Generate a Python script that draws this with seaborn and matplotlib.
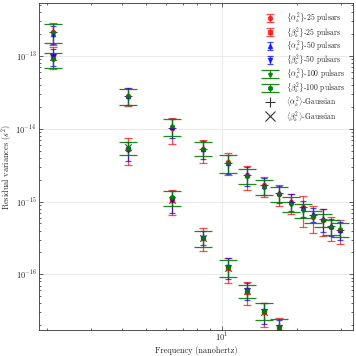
import matplotlib
matplotlib.use('Agg')
import matplotlib.pyplot as plt
import seaborn as sns
import pandas as pd

# frequencies of the residual bins (nanohertz)
freq = [2.11, 4.23, 6.34, 8.45, 10.56, 12.68, 14.79, 16.90, 19.01, 21.13, 23.24, 25.35, 27.47, 29.58]

# Gaussian expectation values
gauss_alpha = [2.16e-13, 2.85e-14, 1.03e-14, 5.26e-15, 3.41e-15, 2.31e-15, 1.68e-15, 1.29e-15,
               9.9e-16, 8.3e-16, 6.6e-16, 5.7e-16, 4.6e-16, 4.1e-16]
gauss_beta = [9.8e-14, 5.65e-15, 1.06e-15, 3.2e-16, 1.24e-16, 5.9e-17, 3.06e-17, 1.86e-17,
              1.0e-17, 6.0e-18, 3.8e-18, 2.4e-18, 1.6e-18, 1.1e-18]

# 25 pulsars
a25 = [2.12e-13, 2.82e-14, 1.01e-14, 5.2e-15, 3.45e-15, 2.28e-15, 1.68e-15, 1.27e-15,
       9.8e-16, 8.3e-16, 6.2e-16, 5.6e-16, 4.5e-16, 4.1e-16]
a25_err = [7.2e-14, 7.8e-15, 3.9e-15, 1.8e-15, 1.15e-15, 8.2e-16, 5.2e-16, 4.0e-16,
           3.0e-16, 3.8e-16, 2.45e-16, 2.2e-16, 1.6e-16, 1.5e-16]
b25 = [1.0e-13, 5.35e-15, 1.05e-15, 3.2e-16, 1.22e-16, 5.8e-17, 3.0e-17, 1.85e-17,
       1.0e-17, 6.0e-18, 3.8e-18, 2.4e-18, 1.6e-18, 1.1e-18]
b25_err = [3.4e-14, 2.15e-15, 4.0e-16, 1.1e-16, 4.5e-17, 2.0e-17, 1.1e-17, 7.0e-18,
           4.0e-18, 2.5e-18, 1.6e-18, 1.0e-18, 7.0e-19, 5.0e-19]

# 50 pulsars
a50 = [2.02e-13, 2.85e-14, 1.06e-14, 5.3e-15, 3.4e-15, 2.3e-15, 1.66e-15, 1.3e-15,
       1.0e-15, 8.2e-16, 6.7e-16, 5.8e-16, 4.6e-16, 4.1e-16]
a50_err = [5.5e-14, 7.5e-15, 3.05e-15, 1.5e-15, 1.0e-15, 6.5e-16, 4.2e-16, 3.3e-16,
           2.5e-16, 2.0e-16, 1.5e-16, 2.0e-16, 1.2e-16, 1.1e-16]
b50 = [9.9e-14, 5.1e-15, 1.04e-15, 3.2e-16, 1.26e-16, 6.0e-17, 3.1e-17, 1.88e-17,
       1.0e-17, 6.0e-18, 3.8e-18, 2.4e-18, 1.6e-18, 1.1e-18]
b50_err = [2.6e-14, 1.5e-15, 3.4e-16, 7.0e-17, 4.0e-17, 1.5e-17, 1.0e-17, 4.5e-18,
           3.0e-18, 2.0e-18, 1.2e-18, 8.0e-19, 5.0e-19, 4.0e-19]

# 100 pulsars
a100 = [2.12e-13, 2.8e-14, 1.08e-14, 5.35e-15, 3.4e-15, 2.27e-15, 1.6e-15, 1.28e-15,
        9.3e-16, 7.6e-16, 6.25e-16, 5.6e-16, 4.5e-16, 4.15e-16]
a100_err = [6.3e-14, 6.8e-15, 2.85e-15, 1.15e-15, 9.0e-16, 5.3e-16, 3.6e-16, 3.0e-16,
            2.2e-16, 1.7e-16, 1.15e-16, 1.1e-16, 1.0e-16, 8.5e-17]
b100 = [9.0e-14, 5.45e-15, 1.14e-15, 3.15e-16, 1.25e-16, 5.9e-17, 3.18e-17, 1.9e-17,
        1.0e-17, 6.0e-18, 3.8e-18, 2.4e-18, 1.6e-18, 1.1e-18]
b100_err = [2.1e-14, 1.15e-15, 2.75e-16, 7.5e-17, 3.45e-17, 1.2e-17, 8.2e-18, 5.5e-18,
            3.0e-18, 2.0e-18, 1.2e-18, 8.0e-19, 5.0e-19, 4.0e-19]

sns.set_theme(style='ticks')
plt.rcParams.update({
    'font.family': ['cmr10', 'DejaVu Serif'],
    'mathtext.fontset': 'cm',
    'axes.formatter.use_mathtext': True,
    'axes.unicode_minus': False,
    'font.size': 6,
    'xtick.direction': 'in',
    'ytick.direction': 'in',
    'xtick.top': True,
    'ytick.right': True,
    'xtick.major.size': 3,
    'ytick.major.size': 3,
    'xtick.minor.size': 1.5,
    'ytick.minor.size': 1.5,
    'xtick.major.width': 0.5,
    'ytick.major.width': 0.5,
    'xtick.minor.width': 0.5,
    'ytick.minor.width': 0.5,
    'xtick.major.pad': 0.5,
    'ytick.major.pad': 2,
    'xtick.minor.visible': True,
    'ytick.minor.visible': True,
    'axes.linewidth': 0.6,
    'axes.edgecolor': '#333333',
    'xtick.labelsize': 6,
    'ytick.labelsize': 6,
})

fig = plt.figure(figsize=(3.56, 3.56), dpi=100)
ax = fig.add_axes([0.110, 0.072, 0.881, 0.920])
ax.set_xscale('log')
ax.set_yscale('log')
ax.grid(True, which='major', color='#e6e6e6', linewidth=0.6)
ax.set_axisbelow(True)

series = [
    (a25, a25_err, 'red', 'o', 3.0, 0.7, r'$\{\alpha_k^2\}$-25 pulsars'),
    (b25, b25_err, 'red', 's', 3.0, 0.7, r'$\{\beta_k^2\}$-25 pulsars'),
    (a50, a50_err, 'blue', '^', 2.0, 0.7, r'$\{\alpha_k^2\}$-50 pulsars'),
    (b50, b50_err, 'blue', 'v', 2.0, 0.7, r'$\{\beta_k^2\}$-50 pulsars'),
    (a100, a100_err, 'green', '*', 6.5, 0.9, r'$\{\alpha_k^2\}$-100 pulsars'),
    (b100, b100_err, 'green', 'h', 6.5, 0.9, r'$\{\beta_k^2\}$-100 pulsars'),
]
handles = []
for vals, errs, col, mk, cs, al, lab in series:
    h = ax.errorbar(freq, vals, yerr=errs, fmt=mk, color=col, markersize=3, capsize=cs,
                    elinewidth=0.9, capthick=0.9, alpha=al, label=lab)
    handles.append(h)

gdf = pd.DataFrame({'freq': freq + freq,
                    'var': gauss_alpha + gauss_beta,
                    'kind': ['alpha'] * len(freq) + ['beta'] * len(freq)})
sns.scatterplot(data=gdf[gdf.kind == 'alpha'], x='freq', y='var', marker='+', color='black',
                s=28, linewidth=0.8, alpha=0.7, ax=ax, legend=False)
sns.scatterplot(data=gdf[gdf.kind == 'beta'], x='freq', y='var', marker='x', color='black',
                s=22, linewidth=0.8, alpha=0.7, ax=ax, legend=False)
g_handles = [
    plt.Line2D([], [], marker='+', color='black', linestyle='none', markersize=7,
               markeredgewidth=0.8, alpha=0.8, label=r'$\langle\alpha_k^2\rangle$-Gaussian'),
    plt.Line2D([], [], marker='x', color='black', linestyle='none', markersize=7,
               markeredgewidth=0.8, alpha=0.8, label=r'$\langle\beta_k^2\rangle$-Gaussian'),
]
all_h = handles + g_handles
ax.legend(all_h, [h.get_label() for h in all_h], loc='upper right', frameon=False, fontsize=5.5,
          labelspacing=-0.15, handlelength=2.4, handletextpad=0.9, borderaxespad=0.6)

ax.set_xlim(1.864, 33.42)
ax.set_ylim(1.70e-17, 5.36e-13)
ax.set_xticks([10])
ax.set_yticks([1e-16, 1e-15, 1e-14, 1e-13])
ax.set_xlabel('Frequency (nanohertz)', fontsize=6, labelpad=1.5)
ax.set_ylabel(r'Residual variances ($s^2$)', fontsize=6, labelpad=1)

fig.savefig('out.png', dpi=100)
